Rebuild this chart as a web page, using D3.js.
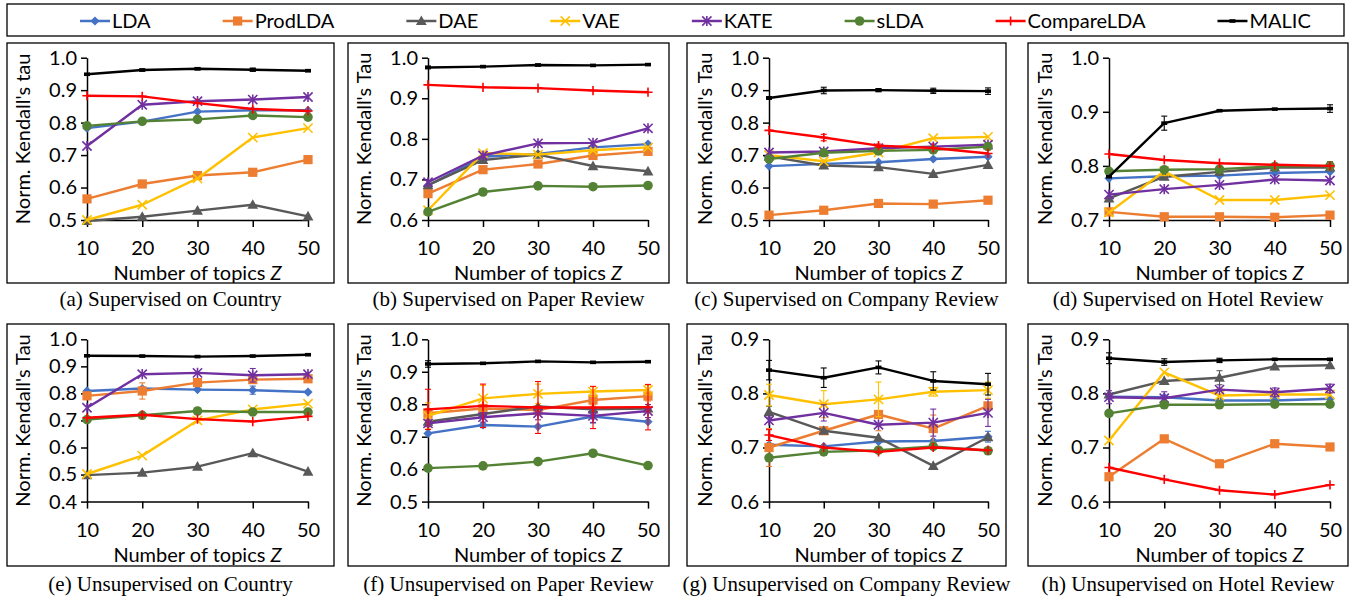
<!DOCTYPE html>
<html>
<head>
<meta charset="utf-8">
<script src="https://cdn.jsdelivr.net/npm/d3@7"></script>
<style>
body { margin: 0; background: #fff; }
text { font-family: Lato, "Noto Sans", sans-serif; fill: #000; }
</style>
</head>
<body>
<div id="chart"></div>
<script>
const topics = [10, 20, 30, 40, 50];
const methods = ["LDA", "ProdLDA", "DAE", "VAE", "KATE", "sLDA", "CompareLDA", "MALIC"];
const captions = [
    "(a) Supervised on Country", "(b) Supervised on Paper Review",
    "(c) Supervised on Company Review", "(d) Supervised on Hotel Review",
    "(e) Unsupervised on Country", "(f) Unsupervised on Paper Review",
    "(g) Unsupervised on Company Review", "(h) Unsupervised on Hotel Review"
];
const yTitles = [
    "Norm. Kendall's tau", "Norm. Kendall's Tau", "Norm. Kendall's Tau", "Norm. Kendall's Tau",
    "Norm. Kendall's Tau", "Norm. Kendall's Tau", "Norm. Kendall's Tau", "Norm. Kendall's Tau"
];
const yTicks = [
    [0.5, 0.6, 0.7, 0.8, 0.9, 1.0],
    [0.6, 0.7, 0.8, 0.9, 1.0],
    [0.5, 0.6, 0.7, 0.8, 0.9, 1.0],
    [0.7, 0.8, 0.9, 1.0],
    [0.4, 0.5, 0.6, 0.7, 0.8, 0.9, 1.0],
    [0.5, 0.6, 0.7, 0.8, 0.9, 1.0],
    [0.6, 0.7, 0.8, 0.9],
    [0.6, 0.7, 0.8, 0.9]
];

// one row per method, same order as `methods`
const supCountry = [
    [0.783, 0.803, 0.834, 0.838, 0.838],
    [0.565, 0.611, 0.637, 0.647, 0.686],
    [0.497, 0.510, 0.529, 0.547, 0.511],
    [0.500, 0.547, 0.628, 0.754, 0.783],
    [0.728, 0.855, 0.866, 0.871, 0.879],
    [0.790, 0.804, 0.810, 0.822, 0.817],
    [0.883, 0.881, 0.860, 0.842, 0.836],
    [0.949, 0.962, 0.966, 0.963, 0.960]
];
const supPaper = [
    [0.685, 0.756, 0.763, 0.779, 0.787],
    [0.665, 0.724, 0.738, 0.759, 0.769],
    [0.686, 0.748, 0.761, 0.733, 0.720],
    [0.624, 0.765, 0.761, 0.772, 0.779],
    [0.693, 0.759, 0.789, 0.790, 0.826],
    [0.620, 0.669, 0.684, 0.682, 0.685],
    [0.933, 0.927, 0.925, 0.919, 0.915],
    [0.976, 0.978, 0.982, 0.981, 0.983]
];
const supCompany = [
    [0.666, 0.673, 0.678, 0.688, 0.695],
    [0.515, 0.530, 0.551, 0.549, 0.561],
    [0.696, 0.668, 0.663, 0.642, 0.670],
    [0.700, 0.681, 0.708, 0.752, 0.756],
    [0.708, 0.711, 0.721, 0.726, 0.732],
    [0.688, 0.707, 0.713, 0.716, 0.726],
    [0.776, 0.754, 0.729, 0.722, 0.705],
    [0.876, 0.899, 0.900, 0.898, 0.897]
];
const supHotel = [
    [0.777, 0.781, 0.782, 0.787, 0.789],
    [0.715, 0.706, 0.706, 0.705, 0.709],
    [0.740, 0.780, 0.789, 0.797, 0.797],
    [0.714, 0.790, 0.737, 0.737, 0.746],
    [0.747, 0.757, 0.765, 0.775, 0.773],
    [0.790, 0.793, 0.794, 0.799, 0.800],
    [0.822, 0.811, 0.805, 0.802, 0.800],
    [0.780, 0.879, 0.902, 0.905, 0.906]
];
const unsupCountry = [
    [0.809, 0.818, 0.814, 0.812, 0.805],
    [0.791, 0.809, 0.840, 0.851, 0.854],
    [0.498, 0.507, 0.529, 0.579, 0.511],
    [0.502, 0.570, 0.700, 0.741, 0.762],
    [0.747, 0.871, 0.876, 0.867, 0.871],
    [0.703, 0.719, 0.735, 0.731, 0.731],
    [0.710, 0.721, 0.705, 0.696, 0.715],
    [0.939, 0.938, 0.936, 0.938, 0.943]
];
const unsupPaper = [
    [0.710, 0.736, 0.731, 0.762, 0.746],
    [0.772, 0.787, 0.782, 0.813, 0.825],
    [0.746, 0.770, 0.793, 0.784, 0.787],
    [0.764, 0.818, 0.832, 0.839, 0.844],
    [0.741, 0.760, 0.772, 0.764, 0.779],
    [0.603, 0.610, 0.623, 0.649, 0.611],
    [0.784, 0.795, 0.790, 0.790, 0.791],
    [0.924, 0.926, 0.932, 0.929, 0.931]
];
const unsupCompany = [
    [0.705, 0.702, 0.711, 0.712, 0.720],
    [0.700, 0.731, 0.761, 0.735, 0.777],
    [0.766, 0.731, 0.718, 0.666, 0.719],
    [0.797, 0.780, 0.789, 0.803, 0.806],
    [0.750, 0.764, 0.742, 0.746, 0.764],
    [0.681, 0.692, 0.695, 0.702, 0.694],
    [0.723, 0.700, 0.692, 0.700, 0.695],
    [0.843, 0.829, 0.848, 0.823, 0.817]
];
const unsupHotel = [
    [0.794, 0.793, 0.787, 0.787, 0.790],
    [0.646, 0.716, 0.670, 0.707, 0.701],
    [0.798, 0.823, 0.829, 0.850, 0.852],
    [0.713, 0.839, 0.796, 0.798, 0.798],
    [0.793, 0.791, 0.807, 0.802, 0.809],
    [0.763, 0.779, 0.779, 0.780, 0.780],
    [0.663, 0.641, 0.621, 0.613, 0.631],
    [0.865, 0.858, 0.861, 0.863, 0.863]
];

// error bar half-lengths, only where visible
const supCountryErr = { MALIC: [0, 0.003, 0.003, 0.005, 0.003] };
const supPaperErr = { MALIC: [0.003, 0.002, 0.002, 0.002, 0.002] };
const supCompanyErr = {
    MALIC: [0.004, 0.010, 0.005, 0.008, 0.010],
    CompareLDA: [0, 0.010, 0.005, 0, 0],
    KATE: [0, 0, 0, 0.008, 0]
};
const supHotelErr = {
    MALIC: [0, 0.013, 0, 0, 0.007],
    sLDA: [0, 0, 0, 0, 0.008],
    VAE: [0, 0.008, 0, 0, 0]
};
const unsupCountryErr = {
    ProdLDA: [0.010, 0.030, 0, 0, 0],
    KATE: [0, 0, 0, 0.025, 0],
    LDA: [0, 0, 0, 0.015, 0]
};
const unsupPaperErr = {
    CompareLDA: [0.062, 0.067, 0.080, 0.065, 0.070],
    VAE: [0.040, 0.040, 0.030, 0.015, 0.015],
    LDA: [0, 0, 0, 0.020, 0],
    KATE: [0.010, 0.015, 0.020, 0.020, 0.020],
    ProdLDA: [0.015, 0, 0, 0.015, 0.015],
    MALIC: [0.010, 0, 0, 0, 0]
};
const unsupCompanyErr = {
    MALIC: [0.018, 0.018, 0.012, 0.017, 0.020],
    VAE: [0.020, 0.025, 0.032, 0.008, 0.015],
    KATE: [0, 0.015, 0, 0.025, 0.025],
    ProdLDA: [0.035, 0, 0.030, 0.025, 0],
    DAE: [0.010, 0, 0, 0, 0],
    LDA: [0, 0, 0, 0, 0.010],
    CompareLDA: [0.010, 0, 0, 0, 0]
};
const unsupHotelErr = {
    MALIC: [0.010, 0.006, 0.004, 0, 0],
    DAE: [0, 0, 0.013, 0, 0],
    KATE: [0.012, 0.012, 0, 0.008, 0.008],
    VAE: [0, 0, 0.013, 0, 0]
};

const panelValues = [supCountry, supPaper, supCompany, supHotel, unsupCountry, unsupPaper, unsupCompany, unsupHotel];
const panelErrors = [supCountryErr, supPaperErr, supCompanyErr, supHotelErr, unsupCountryErr, unsupPaperErr, unsupCompanyErr, unsupHotelErr];

// styles
const colors = {
    LDA: "#4472C4", ProdLDA: "#ED7D31", DAE: "#595959", VAE: "#FFC000",
    KATE: "#7030A0", sLDA: "#548235", CompareLDA: "#FF0000", MALIC: "#000000"
};
const markers = {
    LDA: "diamond", ProdLDA: "square", DAE: "triangle", VAE: "cross",
    KATE: "star", sLDA: "circle", CompareLDA: "plus", MALIC: "dash"
};

const width = 1351, height = 598;
const colFrame = [[7, 334], [348, 669], [687, 1006], [1028, 1348]];
const colPlot = [[87, 308], [428, 648], [769, 988], [1109, 1330]];
const rowFrame = [[43, 283], [324, 566]];
const rowPlot = [[57.7, 220], [339.3, 501.6]];
const captionY = [306, 591];
const serif = "'Liberation Serif', 'DejaVu Serif', serif";

const svg = d3.select("#chart").append("svg")
    .attr("width", width)
    .attr("height", height);

const drawMarker = (g, type, cx, cy, color) => {
    const s = 4.6;
    if (type === "diamond") {
        g.append("path").attr("d", `M${cx},${cy - s}L${cx + s},${cy}L${cx},${cy + s}L${cx - s},${cy}Z`).attr("fill", color);
    } else if (type === "square") {
        g.append("rect").attr("x", cx - s).attr("y", cy - s).attr("width", 2 * s).attr("height", 2 * s).attr("fill", color);
    } else if (type === "triangle") {
        g.append("path").attr("d", `M${cx},${cy - s - 1}L${cx + s + 0.8},${cy + s - 0.5}L${cx - s - 0.8},${cy + s - 0.5}Z`).attr("fill", color);
    } else if (type === "circle") {
        g.append("circle").attr("cx", cx).attr("cy", cy).attr("r", s + 0.2).attr("fill", color);
    } else if (type === "dash") {
        g.append("rect").attr("x", cx - 3).attr("y", cy - 1.8).attr("width", 6).attr("height", 3.6).attr("fill", color);
    } else {
        const p = [];
        if (type === "cross" || type === "star") {
            p.push(`M${cx - s},${cy - s}L${cx + s},${cy + s}`, `M${cx - s},${cy + s}L${cx + s},${cy - s}`);
        }
        if (type === "star") p.push(`M${cx},${cy - s - 0.5}L${cx},${cy + s + 0.5}`);
        if (type === "plus") p.push(`M${cx - s},${cy}L${cx + s},${cy}`, `M${cx},${cy - s}L${cx},${cy + s}`);
        g.append("path").attr("d", p.join("")).attr("stroke", color).attr("stroke-width", 1.6).attr("fill", "none");
    }
};

// legend
const legend = svg.append("g");
legend.append("rect")
    .attr("x", 7).attr("y", 4).attr("width", 1337).attr("height", 32)
    .attr("fill", "none").attr("stroke", "#000").attr("stroke-width", 1.3);
let lx = 80;
const ly = 21;
methods.forEach((m) => {
    legend.append("line")
        .attr("x1", lx).attr("x2", lx + 30).attr("y1", ly).attr("y2", ly)
        .attr("stroke", colors[m]).attr("stroke-width", 2.5);
    drawMarker(legend, markers[m], lx + 15, ly, colors[m]);
    const t = legend.append("text")
        .attr("x", lx + 32).attr("y", ly + 7)
        .attr("font-size", 20)
        .text(m);
    lx += 32 + t.node().getComputedTextLength() + 72;
});

const line = (x, y) => d3.line()
    .x((d, j) => x(topics[j]))
    .y((d) => y(d));

panelValues.forEach((vals, i) => {
    const col = i % 4, row = Math.floor(i / 4);
    const [fx0, fx1] = colFrame[col];
    const [fy0, fy1] = rowFrame[row];
    const [px0, px1] = colPlot[col];
    const [py0, py1] = rowPlot[row];
    const ticks = yTicks[i];
    const x = d3.scaleLinear().domain([10, 50]).range([px0, px1]);
    const y = d3.scaleLinear().domain([ticks[0], ticks[ticks.length - 1]]).range([py1, py0]);

    const g = svg.append("g");
    g.append("rect")
        .attr("x", fx0).attr("y", fy0).attr("width", fx1 - fx0).attr("height", fy1 - fy0)
        .attr("fill", "none").attr("stroke", "#000").attr("stroke-width", 1.3);

    const yAxis = g.append("g")
        .attr("transform", `translate(${px0},0)`)
        .call(d3.axisLeft(y).tickValues(ticks).tickFormat(d3.format(".1f"))
            .tickSize(6).tickSizeOuter(0).tickPadding(4));
    const xAxis = g.append("g")
        .attr("transform", `translate(0,${py1})`)
        .call(d3.axisBottom(x).tickValues(topics).tickFormat(d3.format("d"))
            .tickSize(7).tickSizeOuter(0).tickPadding(14));
    [yAxis, xAxis].forEach((a) => {
        a.selectAll("path, line").attr("stroke", "#000").attr("stroke-width", 1.5);
        a.selectAll("text").attr("font-size", 20).attr("font-family", "Lato, sans-serif").attr("fill", "#000");
    });

    const xt = g.append("text")
        .attr("x", (px0 + px1) / 2).attr("y", py1 + 60)
        .attr("text-anchor", "middle").attr("font-size", 20);
    xt.append("tspan").text("Number of topics ");
    xt.append("tspan").attr("font-style", "italic").text("Z");

    g.append("text")
        .attr("transform", `translate(${px0 - 57},${(py0 + py1) / 2}) rotate(-90)`)
        .attr("text-anchor", "middle").attr("font-size", 20)
        .text(yTitles[i]);

    g.append("text")
        .attr("x", (fx0 + fx1) / 2).attr("y", captionY[row])
        .attr("text-anchor", "middle")
        .style("font-family", serif)
        .style("font-size", "21px")
        .text(captions[i]);

    const errs = panelErrors[i];
    methods.forEach((m, k) => {
        const series = vals[k];
        const color = colors[m];
        const e = errs[m];
        if (e) {
            series.forEach((v, j) => {
                if (!e[j]) return;
                const cx = x(topics[j]);
                const eg = g.append("g").attr("stroke", color).attr("stroke-width", 1.1);
                eg.append("line").attr("x1", cx).attr("x2", cx).attr("y1", y(v - e[j])).attr("y2", y(v + e[j]));
                eg.append("line").attr("x1", cx - 3).attr("x2", cx + 3).attr("y1", y(v - e[j])).attr("y2", y(v - e[j]));
                eg.append("line").attr("x1", cx - 3).attr("x2", cx + 3).attr("y1", y(v + e[j])).attr("y2", y(v + e[j]));
            });
        }
        g.append("path")
            .datum(series)
            .attr("d", line(x, y))
            .attr("fill", "none")
            .attr("stroke", color)
            .attr("stroke-width", 2.4)
            .attr("stroke-linejoin", "round");
        series.forEach((v, j) => drawMarker(g, markers[m], x(topics[j]), y(v), color));
    });
});
</script>
</body>
</html>
